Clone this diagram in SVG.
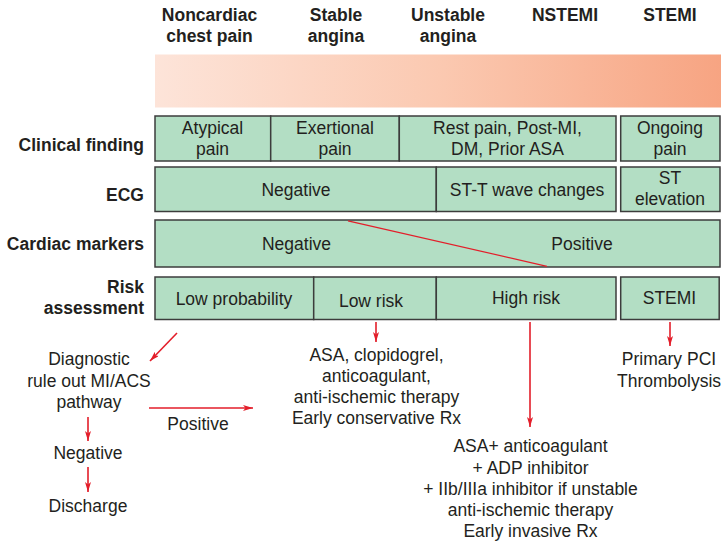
<svg xmlns="http://www.w3.org/2000/svg" width="727" height="543" viewBox="0 0 727 543">
<defs>
<linearGradient id="grad" x1="0" y1="0" x2="1" y2="0">
<stop offset="0" stop-color="#fde4d9"/>
<stop offset="0.5" stop-color="#fbc9b1"/>
<stop offset="1" stop-color="#f7a482"/>
</linearGradient>
<marker id="ah" viewBox="0 0 10 6" refX="10" refY="3" markerWidth="10" markerHeight="6" markerUnits="userSpaceOnUse" orient="auto">
<path d="M0,0 L10,3 L0,6 L2.5,3 z" fill="#e31e2a"/>
</marker>
<style>
text{font-family:"Liberation Sans",Arial,Helvetica,sans-serif;font-size:17.5px;fill:#231f20;text-anchor:middle}
.b{font-weight:bold}
.r{text-anchor:end}
.cell{fill:#b3dec4;stroke:#3c3c3c;stroke-width:1.5}
.arr{stroke:#e31e2a;stroke-width:1.6;fill:none;marker-end:url(#ah)}
.red{stroke:#e31e2a;stroke-width:1.2;fill:none}
</style>
</defs>
<rect id="band" x="155" y="54.5" width="566" height="53" fill="url(#grad)"/>
<g id="headers" class="b">
<text class="b" x="209.5" y="21">Noncardiac</text>
<text class="b" x="209.5" y="42">chest pain</text>
<text class="b" x="336" y="21">Stable</text>
<text class="b" x="336" y="42">angina</text>
<text class="b" x="448" y="21">Unstable</text>
<text class="b" x="448" y="42">angina</text>
<text class="b" x="565" y="21">NSTEMI</text>
<text class="b" x="670" y="21">STEMI</text>
</g>
<g id="row-labels">
<text class="b r" x="144" y="151">Clinical finding</text>
<text class="b r" x="144" y="201">ECG</text>
<text class="b r" x="144" y="250">Cardiac markers</text>
<text class="b r" x="144" y="293">Risk</text>
<text class="b r" x="144" y="314">assessment</text>
</g>
<g id="clinical">
<g id="c-atypical"><rect class="cell" x="155" y="116" width="115.7" height="45"/><text x="212.5" y="133.5">Atypical</text><text x="212.5" y="155">pain</text></g>
<g id="c-exertional"><rect class="cell" x="270.7" y="116" width="128.6" height="45"/><text x="335" y="133.5">Exertional</text><text x="335" y="155">pain</text></g>
<g id="c-rest"><rect class="cell" x="399.3" y="116" width="216.7" height="45"/><text x="507.5" y="133.5">Rest pain, Post-MI,</text><text x="507.5" y="155">DM, Prior ASA</text></g>
<g id="c-ongoing"><rect class="cell" x="620.7" y="116" width="99.3" height="45"/><text x="670" y="133.5">Ongoing</text><text x="670" y="155">pain</text></g>
</g>
<g id="ecg">
<g id="e-neg"><rect class="cell" x="155" y="167" width="281.3" height="44.5"/><text x="296" y="196">Negative</text></g>
<g id="e-stt"><rect class="cell" x="436.3" y="167" width="179.7" height="44.5"/><text x="527" y="195.5">ST-T wave changes</text></g>
<g id="e-ste"><rect class="cell" x="620.7" y="167" width="99.3" height="44.5"/><text x="670" y="183.5">ST</text><text x="670" y="205">elevation</text></g>
</g>
<g id="markers">
<g id="m-box"><rect class="cell" x="155" y="220" width="565" height="47"/><text x="296.5" y="250">Negative</text><text x="582" y="249.5">Positive</text></g>
</g>
<g id="risk">
<g id="r-lowprob"><rect class="cell" x="155" y="277" width="158.7" height="42.5"/><text x="234" y="304.5">Low probability</text></g>
<g id="r-lowrisk"><rect class="cell" x="313.7" y="277" width="122.6" height="42.5"/><text x="371" y="306.7">Low risk</text></g>
<g id="r-high"><rect class="cell" x="436.3" y="277" width="179.7" height="42.5"/><text x="526" y="304">High risk</text></g>
<g id="r-stemi"><rect class="cell" x="620.7" y="277" width="98.5" height="42.5"/><text x="669.5" y="304">STEMI</text></g>
</g>
<g id="n-diagnostic"><text x="89" y="365">Diagnostic</text><text x="89" y="386.5">rule out MI/ACS</text><text x="89" y="407.5">pathway</text></g>
<g id="n-positive"><text x="198" y="430">Positive</text></g>
<g id="n-negative"><text x="88" y="458.5">Negative</text></g>
<g id="n-discharge"><text x="88" y="511.5">Discharge</text></g>
<g id="n-conservative"><text x="376.5" y="360.5">ASA, clopidogrel,</text><text x="376.5" y="381.5">anticoagulant,</text><text x="376.5" y="402.5">anti-ischemic therapy</text><text x="376.5" y="423.5">Early conservative Rx</text></g>
<g id="n-invasive"><text x="530.5" y="452">ASA+ anticoagulant</text><text x="530.5" y="473.5">+ ADP inhibitor</text><text x="530.5" y="495">+ IIb/IIIa inhibitor if unstable</text><text x="530.5" y="516">anti-ischemic therapy</text><text x="530.5" y="537">Early invasive Rx</text></g>
<g id="n-pci"><text x="669" y="365">Primary PCI</text><text x="669" y="386.5">Thrombolysis</text></g>
<g id="connectors">
<line class="red" x1="348" y1="220.8" x2="547" y2="266.3"/>
<line class="arr" x1="177" y1="333" x2="150" y2="361"/>
<line class="arr" x1="376" y1="322" x2="376" y2="342"/>
<line class="arr" x1="530" y1="322" x2="530" y2="427"/>
<line class="arr" x1="670" y1="322" x2="670" y2="346"/>
<line class="arr" x1="149" y1="408" x2="253" y2="408"/>
<line class="arr" x1="88" y1="417" x2="88" y2="441"/>
<line class="arr" x1="88" y1="467" x2="88" y2="492"/>
</g>
</svg>
